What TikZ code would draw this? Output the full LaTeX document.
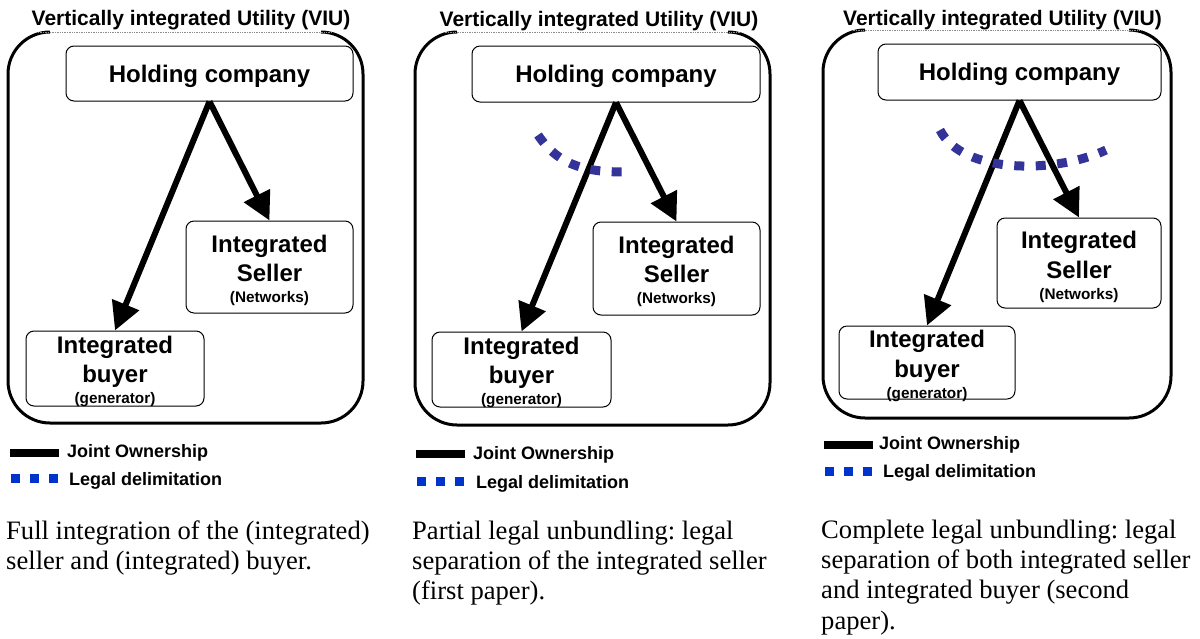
\documentclass[tikz,border=0pt]{standalone}
\usepackage{fontspec}
\setmainfont{Liberation Serif}
\newfontfamily\arialfont{Liberation Sans}
\usetikzlibrary{arrows.meta}
\definecolor{delimblue}{RGB}{51,51,153}
\definecolor{legblue}{RGB}{0,51,204}
\frenchspacing
\tikzset{
  outerbox/.style={draw=black, line width=3pt, rounded corners=42pt},
  topedge/.style={draw=black!45, line width=1.4pt, densely dotted},
  unitbox/.style={draw=black, line width=1pt, rounded corners=8pt, inner sep=0pt},
  holdtext/.style={font=\arialfont\bfseries\fontsize{24}{29}\selectfont, text height=17.2pt, text depth=0pt},
  unittext/.style={font=\arialfont\bfseries\fontsize{24}{29.5}\selectfont, align=center, inner sep=0pt, anchor=north},
  titletext/.style={font=\arialfont\bfseries\fontsize{21}{25}\selectfont, inner sep=0pt, anchor=base},
  legtext/.style={font=\arialfont\bfseries\fontsize{18}{22}\selectfont, inner sep=0pt, anchor=base west},
  captext/.style={font=\fontsize{26.6}{30.3}\selectfont, align=left, inner sep=0pt, anchor=north west},
  own/.style={draw=black, line width=6pt, -{Triangle[length=28pt,width=28pt]}},
  delim/.style={draw=delimblue, line width=9pt, dash pattern=on 10pt off 11.5pt},
  legjoint/.style={draw=black, line width=8pt},
  legdelim/.style={draw=legblue, line width=9pt, dash pattern=on 9pt off 10pt},
}
\newcommand{\smalltxt}[1]{{\fontsize{15.3}{18}\selectfont #1}}
\begin{document}
\begin{tikzpicture}[x=1pt,y=-1pt]
\useasboundingbox (0,0) rectangle (1200,638);

% ---------- Panel 1 ----------
\draw[outerbox] (50,32) -| (8,423) -| (363,32) -- (321,32);
\draw[topedge] (38,32.5) -- (333,32.5);
\node[titletext] (t1) at (191,25) {Vertically integrated Utility (VIU)};
\node[unitbox, holdtext, minimum width=287pt, minimum height=55pt] (h1) at (209.5,73.5) {Holding company};
\node[unitbox, minimum width=167pt, minimum height=92pt] (s1) at (269.5,267) {};
\node[unittext] (s1t) at (269.5,234.7) {Integrated\\Seller\\[-8.5pt]\smalltxt{(Networks)}};
\node[unitbox, minimum width=178pt, minimum height=75pt] (b1) at (115,368.5) {};
\node[unittext] (b1t) at (115,335.7) {Integrated\\buyer\\[-8.5pt]\smalltxt{(generator)}};
\draw[own] (h1.south) -- (s1.north);
\draw[own] (h1.south) -- (b1.north);
\coordinate (j1a) at (10,452.5); \coordinate (j1b) at (59,452.5);
\draw[legjoint] (j1a) -- (j1b);
\node[legtext] (lj1) at (67,457) {Joint Ownership};
\coordinate (d1a) at (11,478.5); \coordinate (d1b) at (58,478.5);
\draw[legdelim] (d1a) -- (d1b);
\node[legtext] (ld1) at (69,485) {Legal delimitation};
\node[captext] (c1) at (6,520.5) {Full integration of the (integrated)\\seller and (integrated) buyer.};

% ---------- Panel 2 ----------
\draw[outerbox] (457,32) -| (415,425) -| (770,32) -- (728,32);
\draw[topedge] (443,32.5) -- (743,32.5);
\node[titletext] (t2) at (599,26) {Vertically integrated Utility (VIU)};
\node[unitbox, holdtext, minimum width=288pt, minimum height=56pt] (h2) at (616,74) {Holding company};
\node[unitbox, minimum width=167pt, minimum height=93pt] (s2) at (676.5,268.5) {};
\node[unittext] (s2t) at (676.5,235.7) {Integrated\\Seller\\[-8.5pt]\smalltxt{(Networks)}};
\node[unitbox, minimum width=179pt, minimum height=75pt] (b2) at (521.5,369.5) {};
\node[unittext] (b2t) at (521.5,336.7) {Integrated\\buyer\\[-8.5pt]\smalltxt{(generator)}};
\draw[own] (h2.south) -- (s2.north);
\draw[own] (h2.south) -- (b2.north);
\coordinate (l2a) at (538,135); \coordinate (l2b) at (626,172);
\draw[delim] (l2a) .. controls (560,168) and (590,172) .. (l2b);
\coordinate (j2a) at (416,454); \coordinate (j2b) at (465,454);
\draw[legjoint] (j2a) -- (j2b);
\node[legtext] (lj2) at (473,459) {Joint Ownership};
\coordinate (d2a) at (417,481.5); \coordinate (d2b) at (464,481.5);
\draw[legdelim] (d2a) -- (d2b);
\node[legtext] (ld2) at (476,488) {Legal delimitation};
\node[captext] (c2) at (412,520.5) {Partial legal unbundling: legal\\separation of the integrated seller\\(first paper).};

% ---------- Panel 3 ----------
\draw[outerbox] (865,30) -| (823,418) -| (1171,30) -- (1129,30);
\draw[topedge] (851,30.5) -- (1143,30.5);
\node[titletext] (t3) at (1002.5,25) {Vertically integrated Utility (VIU)};
\node[unitbox, holdtext, minimum width=283pt, minimum height=56pt] (h3) at (1019.5,72) {Holding company};
\node[unitbox, minimum width=164pt, minimum height=90pt] (s3) at (1079,263) {};
\node[unittext] (s3t) at (1079,231) {Integrated\\Seller\\[-8.5pt]\smalltxt{(Networks)}};
\node[unitbox, minimum width=176pt, minimum height=73pt] (b3) at (927,362.5) {};
\node[unittext] (b3t) at (927,330) {Integrated\\buyer\\[-8.5pt]\smalltxt{(generator)}};
\draw[own] (h3.south) -- (s3.north);
\draw[own] (h3.south) -- (b3.north);
\coordinate (l3a) at (940,130); \coordinate (l3b) at (1106,150);
\draw[delim] (l3a) .. controls (962,174) and (1055,174) .. (l3b);
\coordinate (j3a) at (824,444.5); \coordinate (j3b) at (873,444.5);
\draw[legjoint] (j3a) -- (j3b);
\node[legtext] (lj3) at (879,449) {Joint Ownership};
\coordinate (d3a) at (825,471); \coordinate (d3b) at (872,471);
\draw[legdelim] (d3a) -- (d3b);
\node[legtext] (ld3) at (883,477) {Legal delimitation};
\node[captext] (c3) at (821,519.5) {Complete legal unbundling: legal\\separation of both integrated seller\\and integrated buyer (second\\paper).};
\end{tikzpicture}
\end{document}
